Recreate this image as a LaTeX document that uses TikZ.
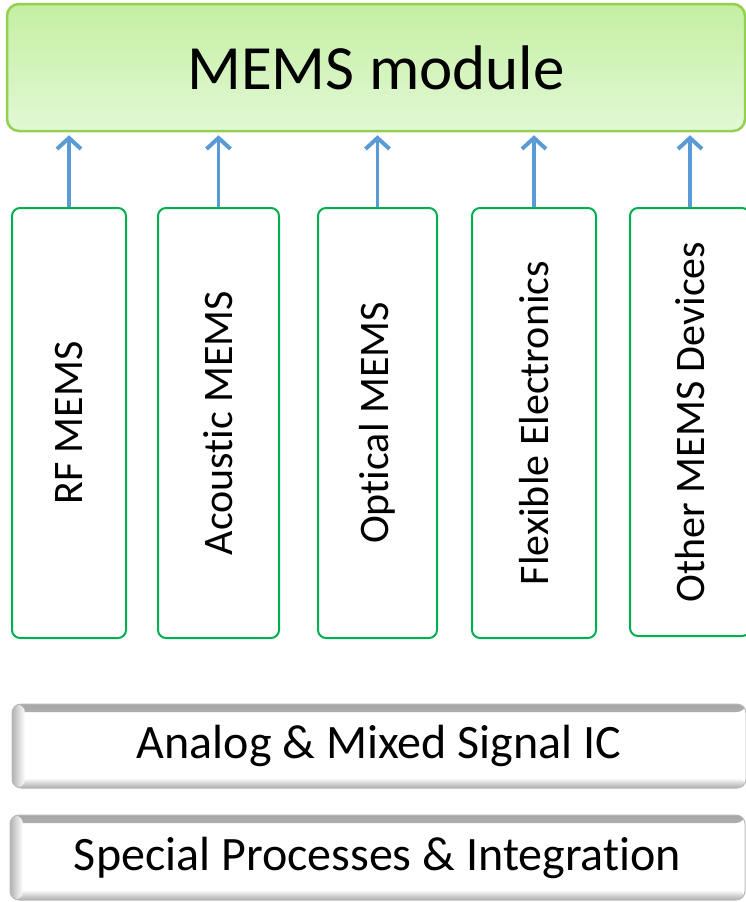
\documentclass[tikz,border=0pt]{standalone}
\usepackage{fontspec}
\setmainfont{Carlito}[Ligatures={NoCommon}]
\usetikzlibrary{arrows.meta}
\definecolor{modgreen}{HTML}{92D050}
\definecolor{colgreen}{HTML}{00B050}
\definecolor{arrblue}{HTML}{5B9BD5}
\definecolor{modtop}{HTML}{C3EFA2}
\definecolor{modbot}{HTML}{E3F8D6}
\begin{document}
\begin{tikzpicture}[
  x=1pt,y=-1pt,
  up/.style={-{Straight Barb[length=11pt,width=24pt,line width=4pt]},arrblue,line width=3.5pt,shorten >=3pt},
  module/.style={draw=modgreen,line width=2.5pt,rounded corners=12pt,
    top color=modtop,bottom color=modbot,
    minimum width=738pt,minimum height=127pt,font=\fontsize{63}{70}\selectfont},
  col/.style={draw=colgreen,line width=2pt,rounded corners=8pt,fill=white,rotate=90,
    minimum width=430pt,font=\fontsize{42}{48}\selectfont},
  layer/.style={draw=gray!55,line width=1pt,rounded corners=9pt,fill=white,
    minimum height=84pt,font=\fontsize{48}{54}\selectfont,
    path picture={
      \shade[top color=gray!70,bottom color=white]
        (path picture bounding box.north west) rectangle ([yshift=-8pt]path picture bounding box.north east);
      \shade[top color=white,bottom color=gray!65]
        ([yshift=10pt]path picture bounding box.south west) rectangle (path picture bounding box.south east);
      \shade[left color=gray!60,right color=white]
        (path picture bounding box.north west) rectangle ([xshift=13pt]path picture bounding box.south west);
    }}
]
  \useasboundingbox (0,0) rectangle (746,902);

  \node[module] (module) at (376,67.5) {MEMS module};

  \node[col,minimum height=114pt] (rf) at (69,423) {RF MEMS};
  \node[col,minimum height=121pt] (acoustic) at (218.5,423) {Acoustic MEMS};
  \node[col,minimum height=119pt] (optical) at (377.5,423) {Optical MEMS};
  \node[col,minimum height=124pt] (flexible) at (534,423) {Flexible Electronics};
  \node[col,minimum height=120pt,minimum width=428pt] (other) at (690,422) {Other MEMS Devices};

  \foreach \c in {rf,acoustic,optical,flexible,other}
    \draw[up] (\c.east) -- (\c.east |- module.south);

  \node[layer,minimum width=734pt] (analog) at (379,746) {Analog \& Mixed Signal IC};
  \node[layer,minimum width=735pt,minimum height=85pt] (special) at (377.5,857.5) {Special Processes \& Integration};
\end{tikzpicture}
\end{document}
